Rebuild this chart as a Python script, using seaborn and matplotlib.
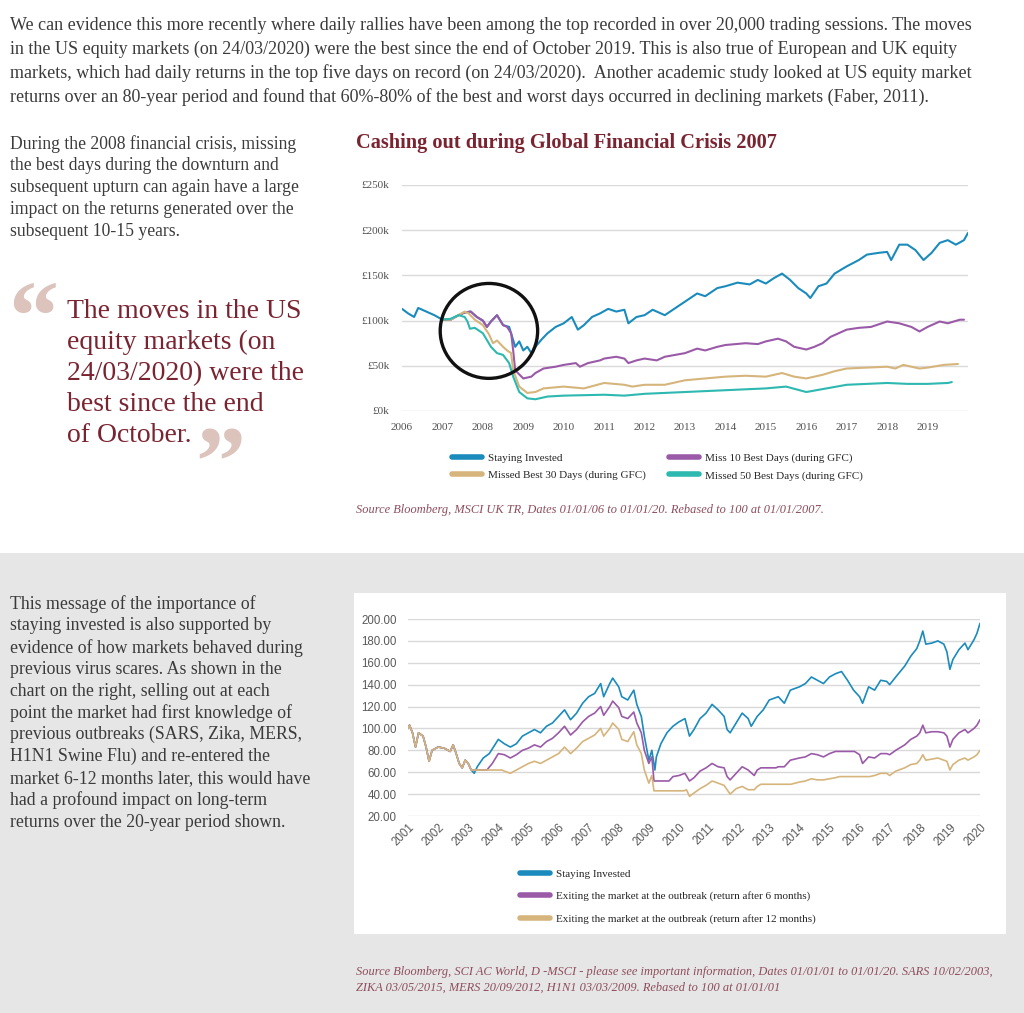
import matplotlib
matplotlib.use("Agg")
import numpy as np
import pandas as pd
import matplotlib.pyplot as plt
import seaborn as sns
from matplotlib.patches import Ellipse, Rectangle
from matplotlib.lines import Line2D
from matplotlib.ticker import FuncFormatter

# ======================
# page text
# ======================
intro_lines = [
    "We can evidence this more recently where daily rallies have been among the top recorded in over 20,000 trading sessions. The moves",
    "in the US equity markets (on 24/03/2020) were the best since the end of October 2019. This is also true of European and UK equity",
    "markets, which had daily returns in the top five days on record (on 24/03/2020).  Another academic study looked at US equity market",
    "returns over an 80-year period and found that 60%-80% of the best and worst days occurred in declining markets (Faber, 2011).",
]
gfc_note_lines = [
    "During the 2008 financial crisis, missing",
    "the best days during the downturn and",
    "subsequent upturn can again have a large",
    "impact on the returns generated over the",
    "subsequent 10-15 years.",
]
quote_lines = [
    "The moves in the US",
    "equity markets (on",
    "24/03/2020) were the",
    "best since the end",
    "of October.",
]
virus_note_lines = [
    "This message of the importance of",
    "staying invested is also supported by",
    "evidence of how markets behaved during",
    "previous virus scares. As shown in the",
    "chart on the right, selling out at each",
    "point the market had first knowledge of",
    "previous outbreaks (SARS, Zika, MERS,",
    "H1N1 Swine Flu) and re-entered the",
    "market 6-12 months later, this would have",
    "had a profound impact on long-term",
    "returns over the 20-year period shown.",
]
gfc_title = "Cashing out during Global Financial Crisis 2007"
gfc_source = "Source Bloomberg, MSCI UK TR, Dates 01/01/06 to 01/01/20. Rebased to 100 at 01/01/2007."
virus_source = [
    "Source Bloomberg, SCI AC World, D -MSCI - please see important information, Dates 01/01/01 to 01/01/20. SARS 10/02/2003,",
    "ZIKA 03/05/2015, MERS 20/09/2012, H1N1 03/03/2009. Rebased to 100 at 01/01/01",
]

# ======================
# chart 1 data (year, value in £k)
# ======================
gfc_labels = ["Staying Invested", "Missed Best 30 Days (during GFC)",
              "Miss 10 Best Days (during GFC)", "Missed 50 Best Days (during GFC)"]
gfc_staying = [
    (2006.0, 113), (2006.15, 108), (2006.3, 104), (2006.4, 114), (2006.6, 110), (2006.8, 106),
    (2007.0, 101), (2007.2, 101), (2007.4, 106), (2007.55, 109), (2007.7, 110), (2007.85, 104),
    (2008.0, 100), (2008.1, 93), (2008.2, 99), (2008.35, 106), (2008.5, 95), (2008.65, 93),
    (2008.8, 71), (2008.9, 77), (2009.0, 67), (2009.1, 71), (2009.2, 64), (2009.3, 71),
    (2009.45, 79), (2009.6, 86), (2009.8, 93), (2010.0, 97), (2010.2, 104), (2010.35, 90),
    (2010.5, 95), (2010.7, 104), (2010.9, 108), (2011.1, 113), (2011.3, 110), (2011.5, 112),
    (2011.6, 97), (2011.8, 104), (2012.0, 106), (2012.2, 112), (2012.5, 106), (2012.8, 115),
    (2013.0, 121), (2013.3, 130), (2013.5, 127), (2013.8, 136), (2014.0, 138), (2014.3, 142),
    (2014.6, 140), (2014.8, 145), (2015.0, 141), (2015.2, 147), (2015.4, 152), (2015.6, 145),
    (2015.8, 136), (2016.0, 130), (2016.1, 125), (2016.3, 138), (2016.5, 141), (2016.7, 152),
    (2017.0, 160), (2017.3, 167), (2017.5, 173), (2017.8, 175), (2018.0, 176), (2018.1, 167),
    (2018.3, 184), (2018.5, 184), (2018.7, 178), (2018.9, 167), (2019.1, 175), (2019.3, 186),
    (2019.5, 189), (2019.7, 184), (2019.9, 189), (2020.0, 197),
]
gfc_miss10 = [
    (2007.0, 101), (2007.2, 101), (2007.4, 106), (2007.55, 109), (2007.7, 110), (2007.85, 104),
    (2008.0, 100), (2008.1, 93), (2008.2, 99), (2008.35, 106), (2008.5, 95), (2008.6, 93),
    (2008.7, 86), (2008.75, 67), (2008.8, 45), (2009.0, 36), (2009.2, 38), (2009.3, 42),
    (2009.5, 47), (2009.8, 49), (2010.0, 51), (2010.3, 53), (2010.4, 49), (2010.6, 53),
    (2010.9, 56), (2011.0, 58), (2011.3, 60), (2011.5, 58), (2011.6, 53), (2011.8, 56),
    (2012.0, 58), (2012.3, 56), (2012.5, 60), (2013.0, 64), (2013.3, 69), (2013.5, 67),
    (2013.8, 71), (2014.0, 73), (2014.5, 75), (2014.8, 74), (2015.0, 77), (2015.3, 80),
    (2015.5, 77), (2015.7, 71), (2016.0, 68), (2016.2, 71), (2016.4, 75), (2016.6, 82),
    (2017.0, 90), (2017.3, 92), (2017.6, 93), (2018.0, 99), (2018.3, 97), (2018.6, 93),
    (2018.8, 88), (2019.0, 93), (2019.3, 99), (2019.5, 97), (2019.8, 101), (2019.9, 101),
]
gfc_miss30 = [
    (2007.0, 101), (2007.2, 101), (2007.4, 106), (2007.55, 110), (2007.65, 108), (2007.8, 101),
    (2008.0, 95), (2008.15, 85), (2008.25, 75), (2008.35, 78), (2008.5, 71), (2008.6, 67),
    (2008.7, 64), (2008.75, 45), (2008.9, 27), (2009.1, 20), (2009.3, 21), (2009.5, 25),
    (2010.0, 27), (2010.5, 25), (2011.0, 31), (2011.5, 29), (2011.7, 27), (2012.0, 29),
    (2012.5, 29), (2013.0, 34), (2013.5, 36), (2014.0, 38), (2014.5, 39), (2015.0, 38),
    (2015.4, 42), (2015.7, 38), (2016.0, 36), (2016.4, 40), (2016.7, 44), (2017.0, 47),
    (2017.5, 48), (2018.0, 49), (2018.2, 47), (2018.4, 51), (2018.8, 47), (2019.0, 48),
    (2019.4, 51), (2019.75, 52),
]
gfc_miss50 = [
    (2007.0, 101), (2007.2, 102), (2007.4, 106), (2007.55, 104), (2007.62, 99), (2007.68, 91),
    (2007.8, 92), (2008.0, 86), (2008.2, 71), (2008.35, 64), (2008.5, 62), (2008.65, 53),
    (2008.75, 38), (2008.9, 21), (2009.1, 14), (2009.3, 13), (2009.6, 16), (2010.0, 17),
    (2011.0, 18), (2011.5, 17), (2012.0, 19), (2013.0, 21), (2014.0, 23), (2015.0, 25),
    (2015.5, 27), (2016.0, 21), (2016.5, 25), (2017.0, 29), (2018.0, 31), (2018.5, 30),
    (2019.0, 30), (2019.5, 31), (2019.6, 32),
]
gfc_years = list(range(2006, 2020))
gfc_yticks = [0, 50, 100, 150, 200, 250]

# ======================
# chart 2 data (year, index rebased to 100)
# ======================
virus_labels = ["Staying Invested",
                "Exiting the market at the outbreak (return after 6 months)",
                "Exiting the market at the outbreak (return after 12 months)"]
virus_pre_sars = [
    (2001.0, 100), (2001.05, 103), (2001.15, 96), (2001.25, 83), (2001.35, 96), (2001.5, 93),
    (2001.6, 83), (2001.7, 70), (2001.8, 80), (2002.0, 83), (2002.2, 82), (2002.4, 79),
    (2002.5, 85), (2002.6, 77), (2002.7, 68), (2002.8, 64), (2002.9, 71), (2003.0, 68),
    (2003.1, 62),
]
virus_staying_after = [
    (2003.2, 59), (2003.3, 65), (2003.5, 73), (2003.7, 77), (2004.0, 90), (2004.2, 86),
    (2004.4, 83), (2004.6, 86), (2004.8, 93), (2005.0, 96), (2005.2, 99), (2005.4, 96),
    (2005.6, 102), (2005.8, 105), (2006.0, 111), (2006.2, 117), (2006.4, 108), (2006.6, 114),
    (2006.8, 123), (2007.0, 129), (2007.2, 132), (2007.4, 141), (2007.5, 129), (2007.7, 141),
    (2007.8, 146), (2008.0, 138), (2008.1, 129), (2008.3, 126), (2008.5, 135), (2008.6, 122),
    (2008.75, 111), (2008.85, 93), (2009.0, 71), (2009.1, 80), (2009.2, 62), (2009.25, 74),
    (2009.4, 86), (2009.6, 96), (2009.8, 102), (2010.0, 106), (2010.2, 109), (2010.35, 93),
    (2010.5, 99), (2010.7, 109), (2010.9, 114), (2011.1, 122), (2011.3, 117), (2011.5, 111),
    (2011.6, 99), (2011.7, 96), (2011.9, 105), (2012.1, 114), (2012.3, 109), (2012.4, 102),
    (2012.6, 111), (2012.8, 117), (2013.0, 126), (2013.3, 129), (2013.5, 123), (2013.7, 135),
    (2014.0, 138), (2014.2, 141), (2014.4, 147), (2014.6, 144), (2014.8, 141), (2015.0, 147),
    (2015.2, 150), (2015.4, 152), (2015.6, 144), (2015.8, 135), (2016.0, 129), (2016.1, 123),
    (2016.3, 138), (2016.5, 135), (2016.7, 144), (2016.9, 143), (2017.0, 140), (2017.2, 147),
    (2017.5, 157), (2017.7, 166), (2017.9, 173), (2018.0, 180), (2018.1, 189), (2018.2, 177),
    (2018.4, 178), (2018.6, 180), (2018.8, 177), (2018.9, 170), (2019.0, 154), (2019.1, 163),
    (2019.3, 172), (2019.5, 178), (2019.6, 172), (2019.8, 181), (2019.9, 187), (2020.0, 196),
]
virus_6m_after = [
    (2003.12, 62), (2003.62, 62), (2003.8, 68), (2004.0, 77), (2004.2, 76), (2004.4, 73),
    (2004.6, 76), (2004.8, 80), (2005.0, 82), (2005.2, 85), (2005.4, 83), (2005.6, 88),
    (2005.8, 91), (2006.0, 96), (2006.2, 102), (2006.4, 94), (2006.6, 99), (2006.8, 106),
    (2007.0, 111), (2007.2, 114), (2007.4, 120), (2007.5, 112), (2007.7, 120), (2007.8, 125),
    (2008.0, 119), (2008.1, 111), (2008.3, 109), (2008.5, 115), (2008.6, 105), (2008.75, 96),
    (2008.85, 80), (2009.0, 68), (2009.1, 74), (2009.17, 52), (2009.67, 52), (2009.8, 56),
    (2010.0, 57), (2010.2, 59), (2010.35, 52), (2010.5, 55), (2010.7, 61), (2010.9, 64),
    (2011.1, 68), (2011.3, 65), (2011.5, 64), (2011.6, 56), (2011.7, 53), (2011.9, 59),
    (2012.1, 65), (2012.3, 62), (2012.5, 57), (2012.6, 62), (2012.72, 64), (2013.22, 64),
    (2013.3, 65), (2013.5, 65), (2013.7, 71), (2014.0, 73), (2014.2, 74), (2014.4, 77),
    (2014.6, 76), (2014.8, 74), (2015.0, 77), (2015.2, 79), (2015.33, 79), (2015.83, 79),
    (2016.0, 76), (2016.1, 68), (2016.3, 74), (2016.5, 73), (2016.7, 77), (2016.9, 77),
    (2017.0, 76), (2017.2, 80), (2017.5, 85), (2017.7, 90), (2017.9, 93), (2018.0, 96),
    (2018.1, 103), (2018.2, 96), (2018.4, 97), (2018.6, 97), (2018.8, 96), (2018.9, 93),
    (2019.0, 83), (2019.1, 90), (2019.3, 96), (2019.5, 99), (2019.6, 96), (2019.8, 100),
    (2019.9, 103), (2020.0, 108),
]
virus_12m_after = [
    (2003.12, 62), (2004.12, 62), (2004.2, 61), (2004.4, 59), (2004.6, 62), (2004.8, 65),
    (2005.0, 68), (2005.2, 70), (2005.4, 68), (2005.6, 71), (2005.8, 74), (2006.0, 77),
    (2006.2, 83), (2006.4, 77), (2006.6, 82), (2006.8, 88), (2007.0, 91), (2007.2, 94),
    (2007.4, 100), (2007.5, 93), (2007.7, 100), (2007.8, 105), (2008.0, 99), (2008.1, 90),
    (2008.3, 88), (2008.5, 97), (2008.6, 85), (2008.75, 77), (2008.85, 62), (2009.0, 50),
    (2009.1, 57), (2009.17, 43), (2010.17, 43), (2010.25, 44), (2010.35, 38), (2010.5, 41),
    (2010.7, 45), (2010.9, 48), (2011.1, 52), (2011.3, 50), (2011.5, 48), (2011.6, 44),
    (2011.7, 40), (2011.9, 45), (2012.1, 47), (2012.3, 44), (2012.5, 44), (2012.6, 47),
    (2012.72, 49), (2013.72, 49), (2014.0, 51), (2014.2, 52), (2014.4, 54), (2014.6, 53),
    (2014.8, 53), (2015.0, 54), (2015.2, 55), (2015.33, 56), (2016.33, 56), (2016.5, 57),
    (2016.7, 59), (2016.9, 59), (2017.0, 57), (2017.2, 61), (2017.5, 64), (2017.7, 67),
    (2017.9, 68), (2018.0, 71), (2018.1, 76), (2018.2, 71), (2018.4, 72), (2018.6, 73),
    (2018.8, 71), (2018.9, 70), (2019.0, 62), (2019.1, 67), (2019.3, 71), (2019.5, 73),
    (2019.6, 71), (2019.8, 74), (2019.9, 76), (2020.0, 80),
]
virus_years = list(range(2001, 2021))
virus_yticks = [20, 40, 60, 80, 100, 120, 140, 160, 180, 200]

# colours
BLUE = "#1b8bbd"
PURPLE = "#9a5aa8"
GOLD = "#d6b57c"
TEAL = "#2db8b0"
MAROON = "#7a2431"
SOURCE_C = "#8d4d5c"
BODY_C = "#3b3b3b"


def to_df(pairs):
    return pd.DataFrame(pairs, columns=["year", "value"])


# ======================
# figure
# ======================
sns.set_theme(style="white")
plt.rcParams["font.family"] = ["Liberation Serif", "DejaVu Serif"]

W, H = 1024, 1013
fig = plt.figure(figsize=(W / 100, H / 100), dpi=100)
fig.patch.set_facecolor("white")


def fx(x):
    return x / W


def fy(y):
    return 1 - y / H


def text_block(lines, x, y0, step, **kw):
    for i, line in enumerate(lines):
        fig.text(fx(x), fy(y0 + i * step), line, ha="left", va="center", **kw)


# grey band + white box behind chart 2
fig.add_artist(Rectangle((0, 0), 1, fy(553), transform=fig.transFigure,
                         facecolor="#e6e6e6", edgecolor="none", zorder=-10))
fig.add_artist(Rectangle((fx(354), fy(934)), fx(1006) - fx(354), fy(593) - fy(934),
                         transform=fig.transFigure, facecolor="white",
                         edgecolor="none", zorder=-9))

# text blocks
text_block(intro_lines, 10, 25, 24, fontsize=13, color=BODY_C)
text_block(gfc_note_lines, 10, 144, 21.8, fontsize=12.7, color=BODY_C)
text_block(quote_lines, 67, 312, 30.8, fontsize=20, color=MAROON)
text_block(virus_note_lines, 10, 604, 21.8, fontsize=12.8, color=BODY_C)

fig.text(fx(8), fy(349), "\u201c", fontsize=72, fontweight="bold", color="#dcc3bc",
         ha="left", va="baseline")
fig.text(fx(195), fy(494), "\u201d", fontsize=72, fontweight="bold", color="#dcc3bc",
         ha="left", va="baseline")

fig.text(fx(356), fy(143), gfc_title, fontsize=14.7, fontweight="bold",
         color=MAROON, ha="left", va="center")
fig.text(fx(356), fy(510), gfc_source, fontsize=8.95, style="italic",
         color=SOURCE_C, ha="left", va="center")
text_block(virus_source, 356, 972, 15.5, fontsize=8.95, style="italic", color=SOURCE_C)

# ======================
# chart 1: GFC
# ======================
ax1 = fig.add_axes([fx(402), fy(411), fx(968) - fx(402), fy(185) - fy(411)])
ax1.set_facecolor("none")
for pairs, col in [(gfc_staying, BLUE), (gfc_miss10, PURPLE),
                   (gfc_miss30, GOLD), (gfc_miss50, TEAL)]:
    sns.lineplot(data=to_df(pairs), x="year", y="value", ax=ax1,
                 color=col, linewidth=1.5, legend=False)

ax1.add_patch(Ellipse((2008.15, 88.6), width=2.41, height=105, fill=False,
                      edgecolor="#111111", linewidth=2.4, zorder=5))
ax1.set_xlim(2006, 2020)
ax1.set_ylim(0, 250)
ax1.set_xticks(gfc_years)
ax1.set_yticks(gfc_yticks)
ax1.yaxis.set_major_formatter(FuncFormatter(lambda v, p: f"\u00a3{int(v)}k"))
ax1.grid(axis="y", color="#dadada", linewidth=1)
ax1.grid(axis="x", visible=False)
ax1.set_axisbelow(True)
for s in ax1.spines.values():
    s.set_visible(False)
ax1.tick_params(axis="both", length=0, labelsize=8, colors="#505050")
ax1.tick_params(axis="y", pad=9)
ax1.tick_params(axis="x", pad=9)
ax1.set_xlabel("")
ax1.set_ylabel("")

gfc_cols = [BLUE, GOLD, PURPLE, TEAL]
h1 = [Line2D([0], [0], color=c, linewidth=4, solid_capstyle="round") for c in gfc_cols]
leg_kw = dict(loc="upper left", frameon=False, fontsize=8, handlelength=2.7,
              handletextpad=0.5, borderpad=0, borderaxespad=0)
fig.legend(h1[:2], gfc_labels[:2], bbox_to_anchor=(fx(452), fy(453)),
           labelspacing=0.68, **leg_kw)
fig.legend(h1[2:], gfc_labels[2:], bbox_to_anchor=(fx(669), fy(453)),
           labelspacing=0.68, **leg_kw)

# ======================
# chart 2: virus scares
# ======================
ax2 = fig.add_axes([fx(408), fy(816), fx(980) - fx(408), fy(619) - fy(816)])
ax2.set_facecolor("white")
virus_series = [
    (virus_pre_sars + virus_staying_after, BLUE),
    (virus_pre_sars + virus_6m_after, PURPLE),
    (virus_pre_sars + virus_12m_after, GOLD),
]
for pairs, col in virus_series:
    sns.lineplot(data=to_df(pairs), x="year", y="value", ax=ax2,
                 color=col, linewidth=1.2, legend=False)

ax2.set_xlim(2001, 2020)
ax2.set_ylim(20, 200)
ax2.set_xticks(virus_years)
ax2.set_yticks(virus_yticks)
ax2.yaxis.set_major_formatter(FuncFormatter(lambda v, p: f"{v:.2f}"))
ax2.grid(axis="y", color="#d9d9d9", linewidth=1)
ax2.grid(axis="x", visible=False)
ax2.set_axisbelow(True)
for s in ax2.spines.values():
    s.set_visible(False)
ax2.tick_params(axis="both", length=0, labelsize=8.3, colors="#595959")
ax2.tick_params(axis="y", pad=8)
ax2.tick_params(axis="x", pad=4)
for lab in ax2.get_yticklabels() + ax2.get_xticklabels():
    lab.set_fontfamily(["Liberation Sans", "DejaVu Sans"])
for lab in ax2.get_xticklabels():
    lab.set_rotation(45)
    lab.set_ha("right")
    lab.set_va("top")
    lab.set_rotation_mode("anchor")
ax2.set_xlabel("")
ax2.set_ylabel("")

h2 = [Line2D([0], [0], color=c, linewidth=4, solid_capstyle="round")
      for c in [BLUE, PURPLE, GOLD]]
fig.legend(h2, virus_labels, bbox_to_anchor=(fx(520), fy(869)),
           labelspacing=1.12, **leg_kw)

fig.savefig("out.png", dpi=100, facecolor=fig.get_facecolor())
